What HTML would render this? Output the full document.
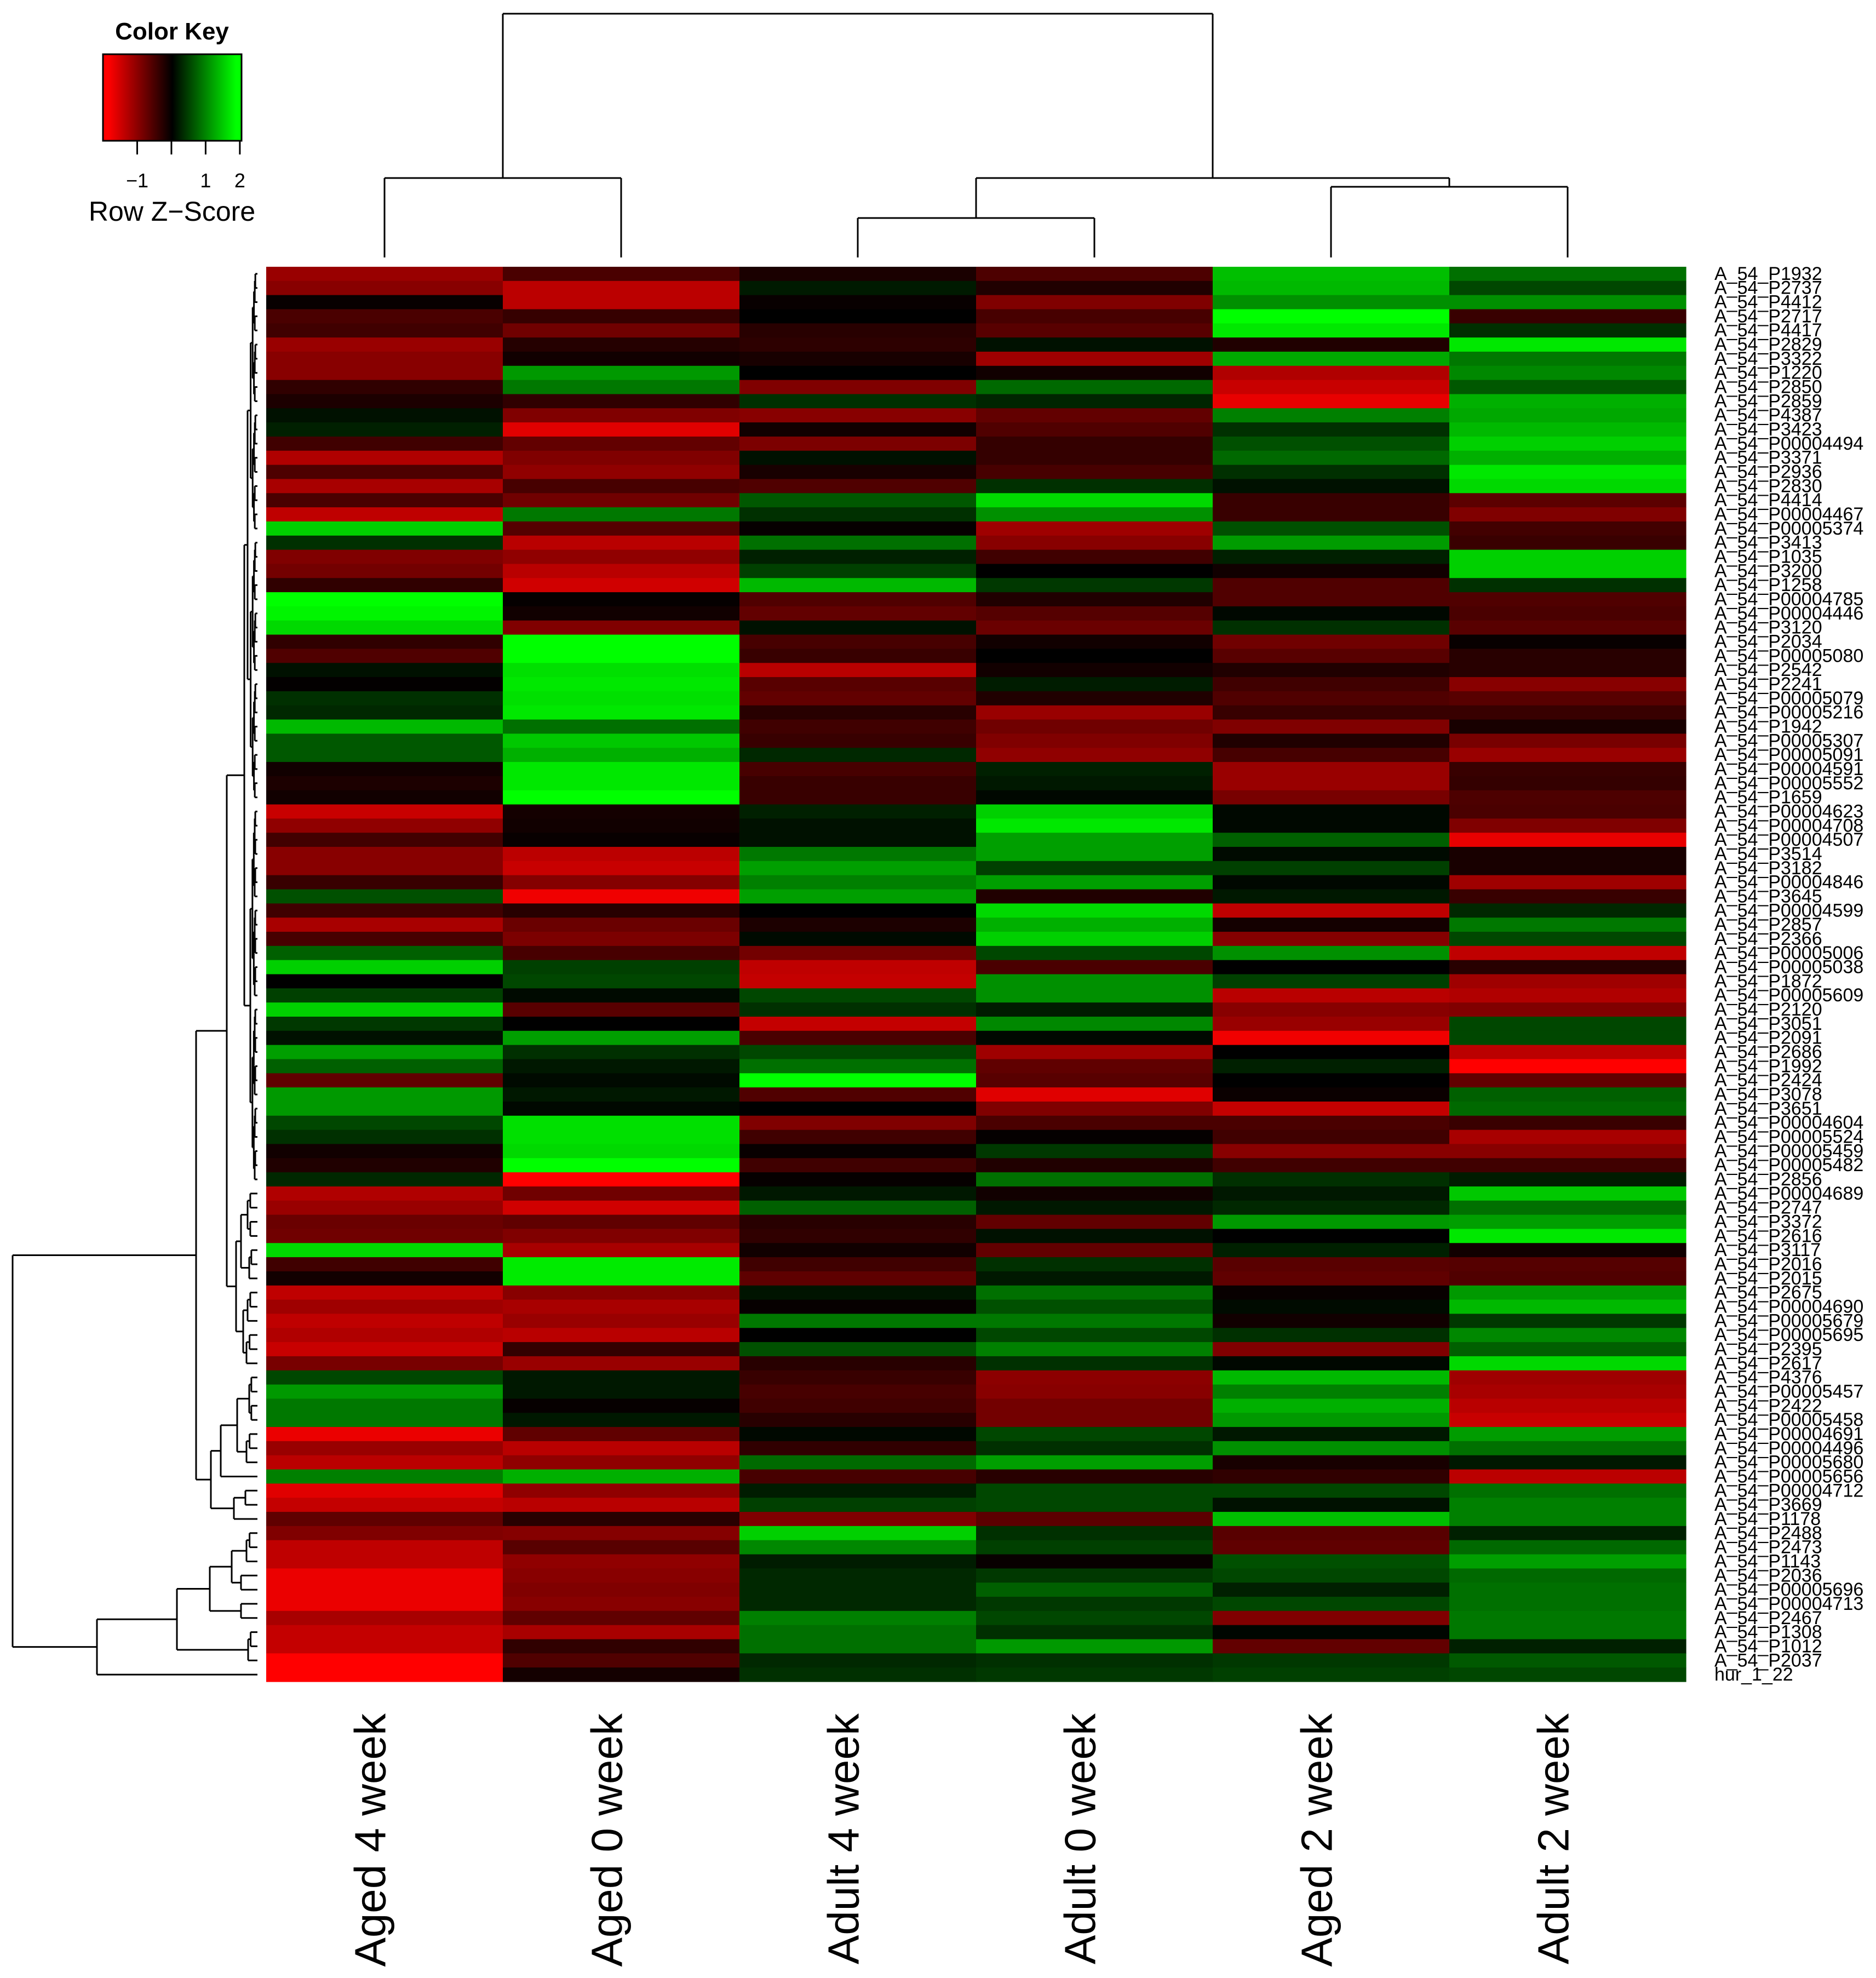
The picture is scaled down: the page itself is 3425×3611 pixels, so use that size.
<!DOCTYPE html>
<html>
<head>
<meta charset="utf-8">
<style>
html,body{margin:0;padding:0;background:#fff;}
svg{display:block;}
text{font-family:"Liberation Sans",Arial,sans-serif;}
</style>
</head>
<body>
<svg id="chart" xmlns="http://www.w3.org/2000/svg" width="3425" height="3611" viewBox="0 0 3425 3611">
  <defs>
    <linearGradient id="keyGrad" x1="0" x2="1" y1="0" y2="0">
      <stop offset="0" stop-color="#ff0000"/>
      <stop offset="0.04" stop-color="#ff0000"/>
      <stop offset="0.5" stop-color="#000000"/>
      <stop offset="0.96" stop-color="#00ff00"/>
      <stop offset="1" stop-color="#00ff00"/>
    </linearGradient>
  </defs>
  <g id="color-key">
    <text x="314" y="72" font-size="44" font-weight="bold" text-anchor="middle">Color Key</text>
    <rect x="188" y="99" width="253" height="158" fill="url(#keyGrad)" stroke="#000" stroke-width="3"/>
    <g id="key-ticks"></g>
    <text x="314" y="403" font-size="50" text-anchor="middle">Row Z−Score</text>
  </g>
  <g id="col-dendro"></g>
  <g id="row-dendro"></g>
  <g id="cells"></g>
  <g id="row-labels"></g>
  <g id="col-labels"></g>
</svg>
<script>
const colLabels = ["Aged 4 week","Aged 0 week","Adult 4 week","Adult 0 week","Aged 2 week","Adult 2 week"];
const keyTicks = [-1, 0, 1, 2];
const keyTickLabels = ["−1", "", "1", "2"];
const rowLabels = ["A_54_P1932","A_54_P2737","A_54_P4412","A_54_P2717","A_54_P4417","A_54_P2829","A_54_P3322","A_54_P1220","A_54_P2850","A_54_P2859",
"A_54_P4387","A_54_P3423","A_54_P00004494","A_54_P3371","A_54_P2936","A_54_P2830","A_54_P4414","A_54_P00004467","A_54_P00005374","A_54_P3413",
"A_54_P1035","A_54_P3200","A_54_P1258","A_54_P00004785","A_54_P00004446","A_54_P3120","A_54_P2034","A_54_P00005080","A_54_P2542","A_54_P2241",
"A_54_P00005079","A_54_P00005216","A_54_P1942","A_54_P00005307","A_54_P00005091","A_54_P00004591","A_54_P00005552","A_54_P1659","A_54_P00004623","A_54_P00004708",
"A_54_P00004507","A_54_P3514","A_54_P3182","A_54_P00004846","A_54_P3645","A_54_P00004599","A_54_P2857","A_54_P2366","A_54_P00005006","A_54_P00005038",
"A_54_P1872","A_54_P00005609","A_54_P2120","A_54_P3051","A_54_P2091","A_54_P2686","A_54_P1992","A_54_P2424","A_54_P3078","A_54_P3651",
"A_54_P00004604","A_54_P00005524","A_54_P00005459","A_54_P00005482","A_54_P2856","A_54_P00004689","A_54_P2747","A_54_P3372","A_54_P2616","A_54_P3117",
"A_54_P2016","A_54_P2015","A_54_P2675","A_54_P00004690","A_54_P00005679","A_54_P00005695","A_54_P2395","A_54_P2617","A_54_P4376","A_54_P00005457",
"A_54_P2422","A_54_P00005458","A_54_P00004691","A_54_P00004496","A_54_P00005680","A_54_P00005656","A_54_P00004712","A_54_P3669","A_54_P1178","A_54_P2488",
"A_54_P2473","A_54_P1143","A_54_P2036","A_54_P00005696","A_54_P00004713","A_54_P2467","A_54_P1308","A_54_P1012","A_54_P2037","hur_1_22"];
const zScores = [
[-1.2,-0.58,-0.2,-0.6,1.5,0.88],
[-1.07,-1.47,0.2,-0.25,1.45,0.56],
[-0.06,-1.47,-0.06,-1.0,1.13,1.13],
[-0.58,-0.42,0,-0.56,2,-0.44],
[-0.5,-0.88,-0.31,-0.69,1.82,0.38],
[-1.2,-0.29,-0.35,0.13,-0.25,1.82],
[-1.07,-0.13,-0.19,-1.25,1.32,0.94],
[-1.07,1.2,0,-0.13,-1.38,1.07],
[-0.38,0.94,-1.0,0.82,-1.57,0.69],
[-0.22,-0.38,0.38,0.29,-1.82,1.38],
[0.13,-1.0,-1.07,-0.77,1.0,1.32],
[0.25,-1.76,-0.13,-0.63,0.38,1.45],
[-0.5,-0.77,-0.97,-0.41,0.63,1.63],
[-1.38,-1.0,0.13,-0.41,0.82,1.38],
[-0.61,-1.13,-0.19,-0.56,0.38,1.82],
[-1.32,-0.56,-0.63,0.38,0.13,1.7],
[-0.58,-0.88,0.69,1.7,-0.44,-0.72],
[-1.5,0.94,0.38,1.13,-0.44,-1.0],
[1.63,-0.67,-0.05,-1.25,0.63,-0.52],
[0.38,-1.45,0.88,-1.07,1.22,-0.45],
[-1.0,-1.13,0.25,-0.5,0.25,1.63],
[-0.9,-1.45,0.5,0,-0.13,1.63],
[-0.38,-1.63,1.45,0.44,-0.63,0.38],
[2,-0.04,-0.63,-0.25,-0.63,-0.63],
[1.92,-0.13,-0.77,-0.67,0.06,-0.58],
[1.7,-1.0,0.13,-0.83,0.38,-0.69],
[-0.38,2,-0.56,-0.13,-0.88,-0.06],
[-0.63,2,-0.44,0,-0.69,-0.31],
[0.13,1.76,-1.45,-0.14,-0.25,-0.31],
[-0.02,1.82,-0.69,0.22,-0.5,-1.07],
[0.38,1.76,-0.77,-0.25,-0.63,-0.69],
[0.31,1.82,-0.31,-1.2,-0.44,-0.44],
[1.45,0.88,-0.5,-0.88,-1.0,-0.19],
[0.69,1.57,-0.44,-1.0,-0.25,-0.94],
[0.69,1.38,0.31,-1.13,-0.56,-1.2],
[-0.13,1.82,-0.56,0.25,-1.2,-0.44],
[-0.22,1.82,-0.44,0.19,-1.2,-0.41],
[-0.13,2,-0.44,0.06,-0.94,-0.6],
[-1.57,-0.16,0.25,1.63,0.06,-0.58],
[-1.13,-0.13,0.13,1.82,0.06,-1.0],
[-0.52,-0.06,0.13,1.25,0.75,-1.82],
[-1.07,-1.47,0.94,1.25,0.08,-0.19],
[-1.07,-1.57,1.25,0.5,0.5,-0.19],
[-0.44,-1.04,1.0,1.25,0.06,-1.25],
[0.63,-1.88,1.25,-0.25,0.19,-0.44],
[-0.5,-0.31,0,1.7,-1.5,0.31],
[-1.32,-0.83,-0.22,1.38,-0.16,0.94],
[-0.56,-0.97,0.08,1.63,-1.04,0.56],
[0.75,-0.56,-0.9,0.56,1.13,-1.5],
[1.63,0.5,-1.5,-0.58,0,-0.31],
[0,0.56,-1.54,1.13,0.5,-1.25],
[0.5,0.08,0.56,1.13,-1.45,-1.38],
[1.63,-0.69,0.38,0.22,-1.07,-1.0],
[0.44,0,-1.54,1.07,-1.2,0.56],
[0.13,1.25,-0.58,0.06,-1.88,0.56],
[1.25,0.38,0.56,-1.25,0,-1.47],
[0.75,0.19,0.88,-0.75,0.25,-2],
[-0.75,0.08,2,-0.69,0,-0.77],
[1.2,0.19,-0.63,-1.76,-0.09,0.75],
[1.2,0.06,0,-1.0,-1.54,0.82],
[0.56,1.76,-1.0,-0.58,-0.58,-0.45],
[0.38,1.76,-0.5,-0.04,-0.5,-1.32],
[-0.13,1.7,-0.06,0.44,-1.07,-1.07],
[-0.25,2,-0.5,-0.25,-0.5,-0.5],
[0.31,-2,-0.05,0.88,0.38,0.22],
[-1.38,-0.88,0.19,-0.13,0.19,1.57],
[-1.2,-1.63,0.75,0.19,0.31,0.88],
[-0.83,-0.75,-0.31,-0.77,1.2,1.25],
[-0.88,-1.0,-0.38,0.13,0,1.82],
[1.7,-1.32,-0.13,-0.77,0.25,-0.13],
[-0.5,1.84,-0.5,0.38,-0.7,-0.67],
[-0.14,1.84,-0.74,0.19,-0.75,-0.63],
[-1.5,-1.07,0.16,0.88,-0.06,1.2],
[-1.25,-1.32,-0.05,0.63,0.09,1.45],
[-1.5,-1.2,0.94,0.94,-0.13,0.44],
[-1.38,-1.45,0,0.56,0.38,1.07],
[-1.57,-0.41,0.63,1.0,-1.0,0.75],
[-0.94,-1.2,-0.31,0.38,0.06,1.7],
[0.56,0.19,-0.44,-1.1,1.45,-1.25],
[1.2,0.19,-0.56,-1.07,1.0,-1.32],
[0.94,-0.05,-0.5,-0.9,1.38,-1.45],
[0.94,0.19,-0.31,-0.9,1.2,-1.57],
[-1.84,-0.75,0.06,0.56,0.19,1.22],
[-1.2,-1.45,-0.38,0.38,1.13,0.88],
[-1.47,-1.13,0.83,1.25,-0.19,0.19],
[1.0,1.38,-0.56,-0.31,-0.38,-1.47],
[-1.76,-1.13,0.22,0.56,0.56,0.88],
[-1.54,-1.45,0.5,0.56,0.13,1.0],
[-0.75,-0.31,-1.0,-0.72,1.5,1.0],
[-1.0,-1.04,1.63,0.38,-0.69,0.25],
[-1.5,-0.69,1.07,0.5,-0.75,0.82],
[-1.5,-1.13,0.22,-0.06,0.63,1.25],
[-1.84,-1.07,0.31,0.44,0.56,0.82],
[-1.84,-1.0,0.31,0.75,0.25,0.88],
[-1.84,-1.07,0.31,0.44,0.56,0.88],
[-1.32,-0.75,1.0,0.56,-1.0,0.94],
[-1.54,-1.32,0.88,0.38,0.05,0.94],
[-1.54,-0.38,0.88,1.2,-0.77,0.25],
[-2,-0.63,0.31,0.38,0.44,0.7],
[-2,-0.16,0.38,0.44,0.5,0.56]
];

const NS = "http://www.w3.org/2000/svg";
const X0 = 486, CW = 432, Y0 = 487, RH = 25.83;
const KEY_X0 = 188, KEY_W = 253, ZMIN = -2, ZMAX = 2.05;
function xScale(c){ return X0 + c * CW; }
function yScale(r){ return Y0 + r * RH; }
function keyScale(v){ return KEY_X0 + (v - ZMIN) / (ZMAX - ZMIN) * KEY_W; }
function colorOf(z){
  const t = Math.min(1, Math.abs(z) / 2);
  const v = Math.round(t * 255);
  return z < 0 ? "rgb(" + v + ",0,0)" : "rgb(0," + v + ",0)";
}
function mk(tag, attrs, parent){
  const el = document.createElementNS(NS, tag);
  for (const k in attrs) el.setAttribute(k, attrs[k]);
  parent.appendChild(el);
  return el;
}

// color key ticks
const kt = document.getElementById("key-ticks");
keyTicks.forEach((v, i) => {
  const x = keyScale(v);
  const ln = mk("line", {x1:x, y1:257, x2:x, y2:282, stroke:"#000", "stroke-width":3}, kt);
  
  
  if (keyTickLabels[i]) {
    const t = mk("text", {x:x, y:342, "font-size":36, "text-anchor":"middle"}, kt);
    
    
    t.textContent = keyTickLabels[i];
  }
});

// heatmap cells
const cells = document.getElementById("cells");
zScores.forEach((row, r) => {
  row.forEach((z, c) => {
    const rc = mk("rect", {x:xScale(c), y:yScale(r), width:CW + 0.6, height:RH + 0.6, fill:colorOf(z)}, cells);
    
    
  });
});

// row labels
const rl = document.getElementById("row-labels");
rowLabels.forEach((lab, r) => {
  const t = mk("text", {x:3130, y:yScale(r + 0.5), "font-size":34, "dominant-baseline":"central"}, rl);
  
  
  t.textContent = lab;
});

// column labels
const cl = document.getElementById("col-labels");
colLabels.forEach((lab, c) => {
  const cx = xScale(c + 0.5) - 26, cy = 3128;
  const t = mk("text", {x:cx, y:cy, "font-size":80, "text-anchor":"end", "dominant-baseline":"central", transform:"rotate(-90 " + cx + " " + cy + ")"}, cl);
  
  
  t.textContent = lab;
});

// column dendrogram (heights in px)
const cd = document.getElementById("col-dendro");
function colSeg(x1,y1,x2,y2){
  const l = mk("line", {x1:x1, y1:y1, x2:x2, y2:y2, stroke:"#000", "stroke-width":3}, cd);
  
  
}
const colTree = {y:25, c:[{y:325, c:[0,1]}, {y:325, c:[{y:398, c:[2,3]}, {y:341, c:[4,5]}]}]};
function drawCol(n){
  if (typeof n === "number") return {x:xScale(n + 0.5), y:470};
  const a = drawCol(n.c[0]), b = drawCol(n.c[1]);
  colSeg(a.x, a.y, a.x, n.y); colSeg(b.x, b.y, b.x, n.y); colSeg(a.x, n.y, b.x, n.y);
  return {x:(a.x + b.x) / 2, y:n.y};
}
drawCol(colTree);

// row dendrogram
const rd = document.getElementById("row-dendro");
function rowSeg(x1,y1,x2,y2){
  const l = mk("line", {x1:x1, y1:y1, x2:x2, y2:y2, stroke:"#000", "stroke-width":3}, rd);
  
  
}
function N(x, a, b){ return {x:x, c:[a, b]}; }
function bal(a, b, xTop, xBot){
  if (a === b) return a;
  const m = Math.floor((a + b) / 2);
  const nx = xTop + (xBot - xTop) * 0.35;
  return N(xTop, bal(a, m, nx, xBot), bal(m + 1, b, nx, xBot));
}
const rowTree = N(23,
  N(358,
    N(414,
      N(446, bal(0, 37, 452, 468), bal(38, 64, 457, 468)),
      N(431, N(440, bal(65, 68, 452, 466), bal(69, 71, 455, 466)), N(444, bal(72, 74, 452, 466), bal(75, 77, 450, 466)))),
    N(385,
      N(403, N(433, bal(78, 81, 455, 466), bal(82, 84, 450, 466)), 85),
      N(427, bal(86, 87, 448, 466), 88))),
  N(177,
    N(323,
      N(383, N(423, bal(89, 91, 450, 466), bal(92, 93, 440, 466)), bal(94, 95, 440, 466)),
      bal(96, 98, 453, 466)),
    99));
function drawRow(n){
  if (typeof n === "number") return {x:470, y:yScale(n + 0.5)};
  const a = drawRow(n.c[0]), b = drawRow(n.c[1]);
  rowSeg(a.x, a.y, n.x, a.y); rowSeg(b.x, b.y, n.x, b.y); rowSeg(n.x, a.y, n.x, b.y);
  return {x:n.x, y:(a.y + b.y) / 2};
}
drawRow(rowTree);
</script>
</body>
</html>
